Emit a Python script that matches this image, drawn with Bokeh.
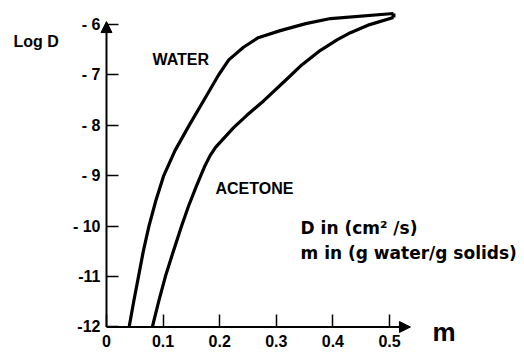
from bokeh.plotting import figure
from bokeh.models import Range1d, FixedTicker, Arrow, NormalHead, Label
from bokeh.embed import file_html
from bokeh.resources import INLINE

# ---- data ----
water_logD = [-12.0, -11.5, -11.0, -10.5, -10.0, -9.5, -9.0, -8.5, -8.0, -7.5, -7.0,
              -6.7, -6.45, -6.26, -6.12, -5.98, -5.88, -5.78]
water_m = [0.040, 0.048, 0.0565, 0.065, 0.075, 0.087, 0.101, 0.121, 0.146, 0.172, 0.198,
           0.216, 0.242, 0.268, 0.307, 0.352, 0.396, 0.507]

acetone_logD = [-12.0, -11.5, -11.0, -10.5, -10.0, -9.6, -9.2, -8.8, -8.6, -8.43, -8.04,
                -7.8, -7.51, -7.11, -6.8, -6.51, -6.3, -6.16, -6.0, -5.86]
acetone_m = [0.081, 0.092, 0.104, 0.118, 0.1325, 0.145, 0.159, 0.174, 0.183, 0.193, 0.225,
             0.248, 0.278, 0.316, 0.345, 0.378, 0.408, 0.431, 0.465, 0.507]

x_ticks = [0, 0.1, 0.2, 0.3, 0.4, 0.5]
x_tick_labels = ["0", "0.1", "0.2", "0.3", "0.4", "0.5"]
y_ticks = [-12, -11, -10, -9, -8, -7, -6]
y_tick_labels = ["-12", "-11", "- 10", "- 9", "- 8", "- 7", "- 6"]

x_axis_end = 0.537
y_axis_end = -5.94

NUM_FONT = "Liberation Sans"
TXT_FONT = "DejaVu Sans"

p = figure(width=524, height=352, output_backend="svg", toolbar_location=None,
           x_range=Range1d(-0.18728, 0.73852), y_range=Range1d(-12.506, -5.522),
           min_border=0)
p.outline_line_color = None
p.grid.visible = False
p.background_fill_color = "white"
p.border_fill_color = "white"

# axes fixed at the origin lines
p.xaxis.fixed_location = -12
p.yaxis.fixed_location = 0
p.xaxis.ticker = FixedTicker(ticks=x_ticks)
p.xaxis.major_label_overrides = {t: l for t, l in zip(x_ticks, x_tick_labels)}
p.yaxis.ticker = FixedTicker(ticks=y_ticks)
p.yaxis.major_label_overrides = {t: l for t, l in zip(y_ticks, y_tick_labels)}
for ax in (p.xaxis, p.yaxis):
    ax.axis_line_color = None
    ax.major_tick_in = 12
    ax.major_tick_out = 0
    ax.minor_tick_in = 0
    ax.minor_tick_out = 0
    ax.major_tick_line_color = "black"
    ax.major_tick_line_width = 1.5
    ax.major_label_text_font = NUM_FONT
    ax.major_label_text_font_size = "16px"
    ax.major_label_text_font_style = "bold"
    ax.major_label_text_color = "black"
p.xaxis.major_label_standoff = 8
p.yaxis.major_label_standoff = 6

# axis lines with arrows
p.add_layout(Arrow(end=NormalHead(size=11, fill_color="black", line_color="black"),
                   x_start=0, y_start=-12, x_end=x_axis_end, y_end=-12,
                   line_width=2, line_color="black"))
p.add_layout(Arrow(end=NormalHead(size=11, fill_color="black", line_color="black"),
                   x_start=0, y_start=-12, x_end=0, y_end=y_axis_end,
                   line_width=2, line_color="black"))

# curves
p.line(water_m, water_logD, line_width=3.2, line_color="black", line_join="round")
p.line(acetone_m, acetone_logD, line_width=3.2, line_color="black", line_join="round")
p.segment(x0=[water_m[-1]], y0=[water_logD[-1]], x1=[acetone_m[-1]], y1=[acetone_logD[-1]],
          line_width=4, line_color="black")

def lab(x, y, text, font, size):
    p.add_layout(Label(x=x, y=y, text=text, text_font=font, text_font_size=size,
                       text_font_style="bold", text_color="black", text_baseline="alphabetic"))

lab(-0.1643, -6.335, "Log D", NUM_FONT, "16px")
lab(0.0813, -6.692, "WATER", NUM_FONT, "16px")
lab(0.1926, -9.245, "ACETONE", NUM_FONT, "16px")
lab(0.3428, -10.045, "D in (cm² /s)", TXT_FONT, "17px")
lab(0.3428, -10.541, "m in (g water/g solids)", TXT_FONT, "17px")
lab(0.576, -12.108, "m", NUM_FONT, "26px")

open("out.html", "w").write(file_html(p, INLINE))
